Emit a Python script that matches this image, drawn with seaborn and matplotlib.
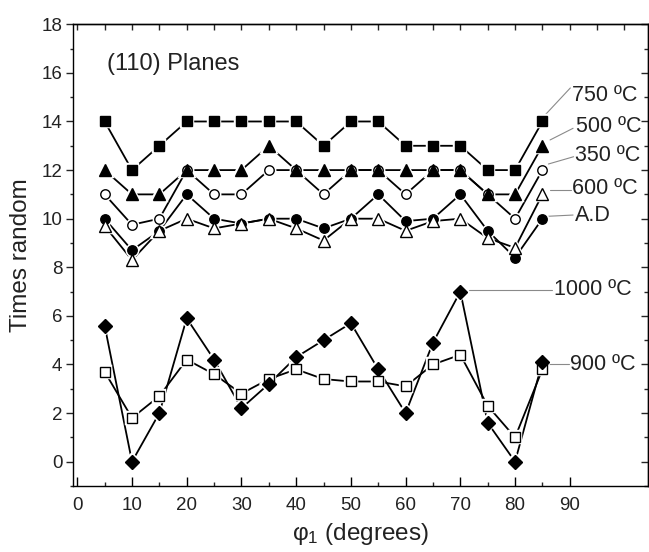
import numpy as np
import pandas as pd
import matplotlib
matplotlib.use("Agg")
import matplotlib.pyplot as plt
import seaborn as sns
from matplotlib.ticker import MultipleLocator, FixedLocator

# phi_1 angles (degrees)
phi = [5, 10, 15, 20, 25, 30, 35, 40, 45, 50, 55, 60, 65, 70, 75, 80, 85]

# times random values
t750 = [14, 12, 13, 14, 14, 14, 14, 14, 13, 14, 14, 13, 13, 13, 12, 12, 14]
t500 = [12, 11, 11, 12, 12, 12, 13, 12, 12, 12, 12, 12, 12, 12, 11, 11, 13]
t350 = [11, 9.75, 10, 12, 11, 11, 12, 12, 11, 12, 12, 11, 12, 12, 11, 10, 12]
t600 = [9.7, 8.3, 9.5, 10, 9.6, 9.8, 10, 9.6, 9.1, 10, 10, 9.5, 9.9, 10, 9.2, 8.8, 11]
t_ad = [10, 8.7, 9.5, 11, 10, 9.8, 10, 10, 9.6, 10, 11, 9.9, 10, 11, 9.5, 8.4, 10]
t1000 = [5.6, 0, 2, 5.9, 4.2, 2.2, 3.2, 4.3, 5, 5.7, 3.8, 2, 4.9, 7, 1.6, 0, 4.1]
t900 = [3.7, 1.8, 2.7, 4.2, 3.6, 2.8, 3.4, 3.8, 3.4, 3.3, 3.3, 3.1, 4, 4.4, 2.3, 1, 3.8]

labels = ["750 ºC", "500 ºC", "350 ºC", "600 ºC", "A.D", "1000 ºC", "900 ºC"]

sns.set_theme(style="ticks")
plt.rcParams["font.family"] = ["Liberation Sans", "DejaVu Sans"]
plt.rcParams["mathtext.default"] = "regular"

# series styling (drawing order): values, marker, size, fill
series = [
    (t350, "o", 6.8, "white"),
    (t500, "^", 8.5, "black"),
    (t750, "s", 6.8, "black"),
    (t_ad, "o", 6.8, "black"),
    (t600, "^", 8.5, "white"),
    (t900, "s", 6.6, "white"),
    (t1000, "D", 7.0, "black"),
]

fig = plt.figure(figsize=(6.49, 5.52), dpi=100)
ax = fig.add_axes([0.112, 0.1196, 0.8865, 0.8364])

# lines first, then white halos (gap around markers), then markers
for vals, m, ms, fc in series:
    sns.lineplot(x=phi, y=vals, ax=ax, color="black", lw=1.3, zorder=2,
                 estimator=None, sort=False)
for vals, m, ms, fc in series:
    ax.plot(phi, vals, ls="none", marker=m, ms=ms, mfc="white", mec="white",
            mew=3.2, zorder=3)
for vals, m, ms, fc in series:
    ax.plot(phi, vals, ls="none", marker=m, ms=ms, mfc=fc, mec="black",
            mew=1.0, zorder=4)

# leader lines and labels: (start x, start y, end x, end y, text x, text y)
leaders = [
    (85.5, 14.27, 90.1, 15.38, 90.4, 15.05),
    (86.4, 13.24, 90.6, 13.72, 91.2, 13.79),
    (86.1, 12.25, 90.7, 12.55, 91.0, 12.62),
    (86.4, 11.18, 90.2, 11.18, 90.4, 11.25),
    (86.1, 10.10, 90.6, 10.15, 91.0, 10.15),
    (71.5, 7.07, 86.7, 7.07, 87.1, 7.07),
    (85.8, 4.02, 89.8, 4.02, 90.1, 3.98),
]
for (x0, y0, x1, y1, tx, ty), lab in zip(leaders, labels):
    ax.plot([x0, x1], [y0, y1], color="#8a8a8a", lw=0.8, zorder=1)
    ax.text(tx, ty, lab, fontsize=15.5, va="center", ha="left", color="#222222")

ax.text(5.4, 16.37, "(110) Planes", fontsize=17, va="center", ha="left",
        color="#222222")

ax.set_xlim(-0.84, 104.3)
ax.set_ylim(-1, 18)

ax.xaxis.set_major_locator(FixedLocator(np.arange(0, 91, 10)))
ax.xaxis.set_minor_locator(FixedLocator(np.arange(5, 90, 10)))
ax.yaxis.set_major_locator(MultipleLocator(2))
ax.yaxis.set_minor_locator(MultipleLocator(1))
ax.set_ylim(-1, 18)

ax.tick_params(axis="x", which="major", direction="in", length=6.2, width=1,
               labelsize=13.5, pad=8, colors="black", labelcolor="#222222")
ax.tick_params(axis="x", which="minor", direction="in", length=3, width=1)
ax.tick_params(axis="y", which="major", direction="out", length=5, width=1,
               labelsize=13.5, pad=2.5, labelcolor="#222222")
ax.tick_params(axis="y", which="minor", direction="out", length=2.5, width=1)

# top and right ticks (inward, no labels)
top = ax.secondary_xaxis("top")
top.xaxis.set_major_locator(FixedLocator(np.arange(0, 101, 5)))
top.tick_params(direction="in", length=4.5, width=1, labeltop=False)
right = ax.secondary_yaxis("right")
right.yaxis.set_major_locator(MultipleLocator(2))
right.yaxis.set_minor_locator(MultipleLocator(1))
right.tick_params(which="major", direction="in", length=5, width=1, labelright=False)
right.tick_params(which="minor", direction="in", length=3, width=1)

for sp in ax.spines.values():
    sp.set_linewidth(1.0)
    sp.set_color("black")
top.spines["top"].set_linewidth(1.0)
right.spines["right"].set_linewidth(1.0)

ax.set_xlabel("φ$_1$ (degrees)", fontsize=17.5, labelpad=5, color="#222222")
ax.set_ylabel("Times random", fontsize=17.5, labelpad=7, color="#222222")

fig.savefig("out.png", dpi=100)
